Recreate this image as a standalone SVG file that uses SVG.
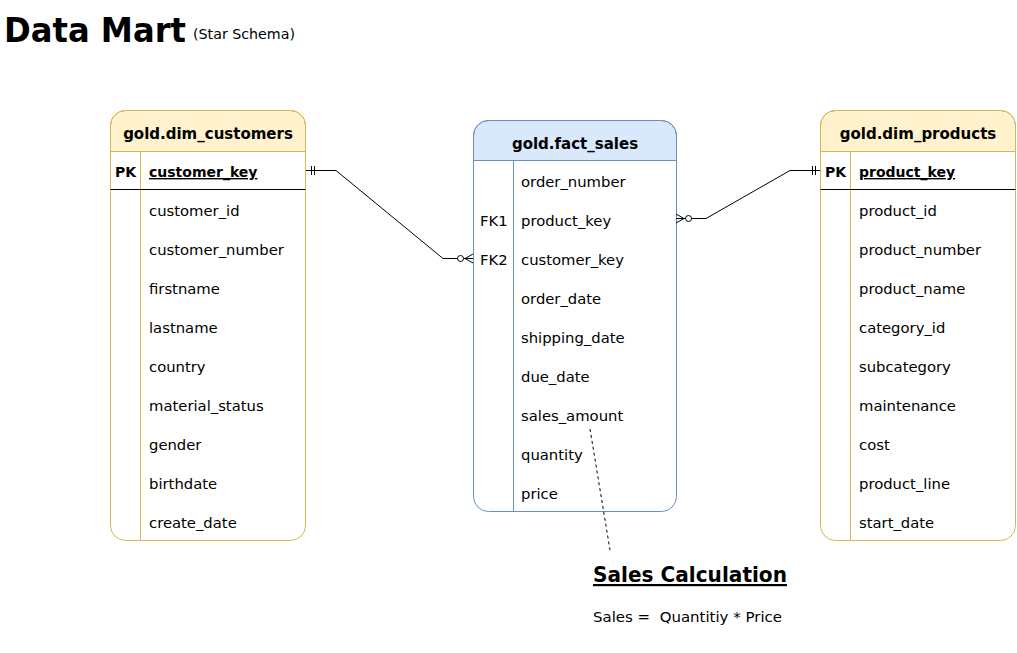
<svg xmlns="http://www.w3.org/2000/svg" width="1017" height="653" viewBox="0 0 1017 653">
<style>
text{font-family:"Comic Sans MS","DejaVu Sans","Liberation Sans",sans-serif;fill:#000}
.hdr{font-size:15px;font-weight:bold;text-anchor:middle}
.fld{font-size:14.8px}
.key{font-size:14px;font-weight:bold}
.pk{text-decoration:underline}
.yb{fill:none;stroke:#d6b656;stroke-width:1}
.yh{fill:#fff2cc;stroke:#d6b656;stroke-width:1}
.bb{fill:none;stroke:#6c8ebf;stroke-width:1}
.bh{fill:#dae8fc;stroke:#6c8ebf;stroke-width:1}
.ln{fill:none;stroke:#000;stroke-width:1}
.conn{fill:none;stroke:#000;stroke-width:1}
</style>
<rect width="1017" height="653" fill="#fff"/>
<text x="4" y="42" textLength="182" lengthAdjust="spacingAndGlyphs" style="font-size:33px;font-weight:bold">Data Mart</text>
<text x="193" y="39" textLength="102" lengthAdjust="spacingAndGlyphs" style="font-size:14px">(Star Schema)</text>

<g id="dim_customers">
<rect x="110.5" y="110.5" width="195" height="430" rx="15" fill="#fff" stroke="none"/>
<path class="yh" d="M110.5,151.5 V125.5 a15,15 0 0 1 15,-15 H290.5 a15,15 0 0 1 15,15 V151.5 Z"/>
<rect class="yb" x="110.5" y="110.5" width="195" height="430" rx="15"/>
<line class="yb" x1="140.5" y1="151.5" x2="140.5" y2="540.5"/>
<line class="ln" x1="110.5" y1="189.5" x2="305.5" y2="189.5"/>
<text class="hdr" x="208" y="139">gold.dim_customers</text>
<text class="key" x="115" y="177">PK</text>
<text class="key pk" x="149" y="177">customer_key</text>
<text class="fld" x="149" y="216">customer_id</text>
<text class="fld" x="149" y="255">customer_number</text>
<text class="fld" x="149" y="294">firstname</text>
<text class="fld" x="149" y="333">lastname</text>
<text class="fld" x="149" y="372">country</text>
<text class="fld" x="149" y="411">material_status</text>
<text class="fld" x="149" y="450">gender</text>
<text class="fld" x="149" y="489">birthdate</text>
<text class="fld" x="149" y="528">create_date</text>
</g>

<g id="fact_sales">
<rect x="473.5" y="120.5" width="203" height="391" rx="15" fill="#fff" stroke="none"/>
<path class="bh" d="M473.5,160.5 V135.5 a15,15 0 0 1 15,-15 H661.5 a15,15 0 0 1 15,15 V160.5 Z"/>
<rect class="bb" x="473.5" y="120.5" width="203" height="391" rx="15"/>
<line class="bb" x1="513.5" y1="160.5" x2="513.5" y2="511.5"/>
<text class="hdr" x="575" y="149">gold.fact_sales</text>
<text class="fld" x="521" y="187">order_number</text>
<text class="fld" x="480" y="226">FK1</text>
<text class="fld" x="521" y="226">product_key</text>
<text class="fld" x="480" y="265">FK2</text>
<text class="fld" x="521" y="265">customer_key</text>
<text class="fld" x="521" y="304">order_date</text>
<text class="fld" x="521" y="343">shipping_date</text>
<text class="fld" x="521" y="382">due_date</text>
<text class="fld" x="521" y="421">sales_amount</text>
<text class="fld" x="521" y="460">quantity</text>
<text class="fld" x="521" y="499">price</text>
</g>

<g id="dim_products">
<rect x="820.5" y="110.5" width="195" height="430" rx="15" fill="#fff" stroke="none"/>
<path class="yh" d="M820.5,151.5 V125.5 a15,15 0 0 1 15,-15 H1000.5 a15,15 0 0 1 15,15 V151.5 Z"/>
<rect class="yb" x="820.5" y="110.5" width="195" height="430" rx="15"/>
<line class="yb" x1="850.5" y1="151.5" x2="850.5" y2="540.5"/>
<line class="ln" x1="820.5" y1="189.5" x2="1015.5" y2="189.5"/>
<text class="hdr" x="918" y="139">gold.dim_products</text>
<text class="key" x="825" y="177">PK</text>
<text class="key pk" x="859" y="177">product_key</text>
<text class="fld" x="859" y="216">product_id</text>
<text class="fld" x="859" y="255">product_number</text>
<text class="fld" x="859" y="294">product_name</text>
<text class="fld" x="859" y="333">category_id</text>
<text class="fld" x="859" y="372">subcategory</text>
<text class="fld" x="859" y="411">maintenance</text>
<text class="fld" x="859" y="450">cost</text>
<text class="fld" x="859" y="489">product_line</text>
<text class="fld" x="859" y="528">start_date</text>
</g>

<g id="connectors">
<path class="conn" d="M306,170.5 H336 L443,258.5 H473"/>
<path class="conn" d="M311.5,166 V175 M314.5,166 V175"/>
<circle cx="460.5" cy="258.5" r="3" fill="#fff" stroke="#000"/>
<path class="conn" d="M473,254 L465,258.5 L473,263"/>
<path class="conn" d="M820,170.5 H790 L706,218.5 H676"/>
<path class="conn" d="M812.5,166 V175 M815.5,166 V175"/>
<circle cx="688.5" cy="218.5" r="3" fill="#fff" stroke="#000"/>
<path class="conn" d="M676,214 L684,218.5 L676,223"/>
<line x1="590" y1="429" x2="610" y2="550" stroke="#000" stroke-width="1" stroke-dasharray="3,3"/>
</g>

<g id="note">
<text x="593" y="582" textLength="194" lengthAdjust="spacingAndGlyphs" style="font-size:22px;font-weight:bold;text-decoration:underline">Sales Calculation</text>
<text x="593" y="622" textLength="189" lengthAdjust="spacingAndGlyphs" style="font-size:14px;white-space:pre" xml:space="preserve">Sales =  Quantitiy * Price</text>
</g>
</svg>
